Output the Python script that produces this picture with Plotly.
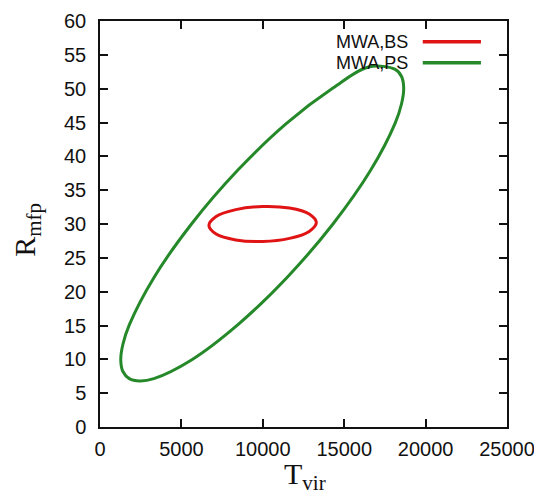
import plotly.graph_objects as go

# Contour points (closed loops)
bs_T = [13290, 12848, 11640, 9990, 8340, 7132, 6690, 7132, 8340, 9990, 11640, 12848, 13290]
bs_R = [30.23, 31.49, 32.36, 32.59, 32.13, 31.10, 29.77, 28.51, 27.64, 27.41, 27.87, 28.90, 30.23]

ps_T = [18655, 18523, 18131, 16491, 14310, 11474, 8456, 5620, 3308, 1799, 1407, 1275,
        1407, 1799, 2439, 3308, 5620, 8456, 11474, 14310, 16622, 18131, 18523, 18655]
ps_R = [50.09, 51.80, 52.85, 53.20, 50.09, 44.91, 37.93, 30.0, 22.07, 15.09, 12.23, 9.91,
        8.20, 7.15, 6.80, 7.15, 9.91, 15.09, 22.07, 30.0, 37.93, 44.91, 47.77, 50.09]

series_names = ["MWA,BS", "MWA,PS"]
series_colors = ["#e01414", "#25892a"]

x_ticks = [0, 5000, 10000, 15000, 20000, 25000]
y_ticks = list(range(0, 61, 5))

fig = go.Figure()
fig.add_trace(go.Scatter(x=bs_T, y=bs_R, mode="lines", name=series_names[0],
                         line=dict(color=series_colors[0], width=3, shape="spline"),
                         showlegend=False))
fig.add_trace(go.Scatter(x=ps_T, y=ps_R, mode="lines", name=series_names[1],
                         line=dict(color=series_colors[1], width=3, shape="spline"),
                         showlegend=False))

# gnuplot-style key: text then line sample, top right
key_y = [0.949, 0.897]
for name, col, ky in zip(series_names, series_colors, key_y):
    fig.add_annotation(xref="paper", yref="paper", x=0.762, y=ky, text=name,
                       showarrow=False, xanchor="right", yanchor="middle",
                       font=dict(family="Liberation Sans, Arial, sans-serif", size=18, color="#111"))
    fig.add_shape(type="line", xref="paper", yref="paper", x0=0.793, x1=0.936, y0=ky, y1=ky,
                  line=dict(color=col, width=3.5))

# axis titles (serif, with subscripts)
title_font = dict(family="Liberation Serif, Times New Roman, serif", size=30, color="#111")
fig.add_annotation(xref="paper", yref="paper", x=0.503, y=-0.12, text="T<sub>vir</sub>",
                   showarrow=False, xanchor="center", yanchor="middle", borderpad=0,
                   font=title_font)
fig.add_annotation(xref="paper", yref="paper", x=-0.18, y=0.485, text="R<sub>mfp</sub>",
                   showarrow=False, xanchor="center", yanchor="middle", textangle=-90,
                   borderpad=0, font=title_font)

axis_common = dict(showline=True, linecolor="#111", linewidth=1.5, mirror="ticks",
                   ticks="inside", ticklen=8, tickwidth=1.5, tickcolor="#111",
                   showgrid=False, zeroline=False, automargin=False,
                   tickfont=dict(family="Liberation Sans, Arial, sans-serif", size=20, color="#111"))

fig.update_xaxes(range=[0, 25000], tickvals=x_ticks, ticktext=[str(v) for v in x_ticks],
                 ticklabelstandoff=3, **axis_common)
fig.update_yaxes(range=[0, 60], tickvals=y_ticks, ticktext=[str(v) for v in y_ticks],
                 ticklabelstandoff=8, **axis_common)

fig.update_layout(width=534, height=488, margin=dict(l=92, r=34.5, t=12.5, b=69),
                  plot_bgcolor="white", paper_bgcolor="white")

fig.write_html("out.html")
